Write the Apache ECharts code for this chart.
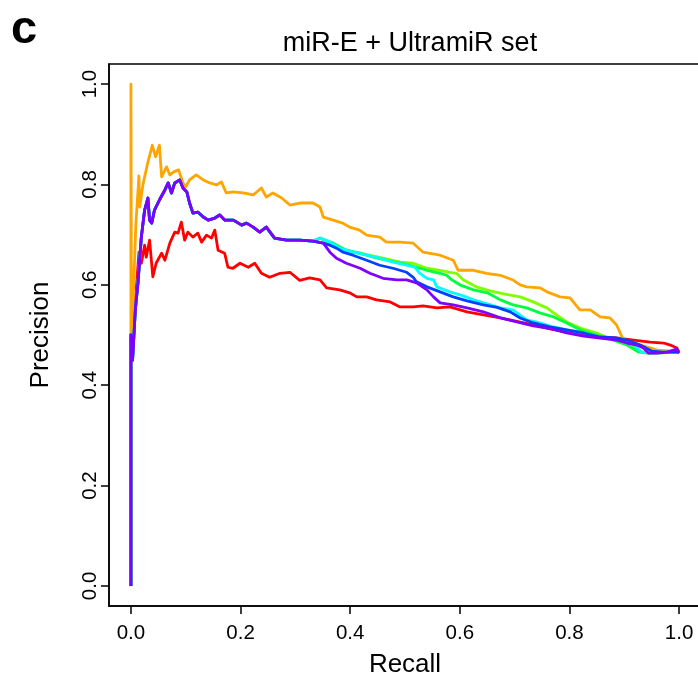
<!DOCTYPE html>
<html>
<head>
<meta charset="utf-8">
<script src="https://cdn.jsdelivr.net/npm/echarts@6/dist/echarts.min.js"></script>
<style>
html,body{margin:0;padding:0;background:#fff;}
#chart{width:698px;height:679px;}
</style>
</head>
<body>
<div id="chart"></div>
<script>
const panelLabel = 'c';
const titleText = 'miR-E + UltramiR set';
const xName = 'Recall';
const yName = 'Precision';
const tickValues = [0, 0.2, 0.4, 0.6, 0.8, 1.0];

const seriesNames = ['red', 'orange', 'chartreuse', 'green', 'cyan', 'blue', 'purple'];
const seriesColors = ['#FF0000', '#FFA500', '#80FF00', '#00FF40', '#00FFFF', '#0040FF', '#8000FF'];

const redCurve = [[0,0],[0,0.5],[0.004,0.48],[0.009,0.58],[0.0146,0.665],[0.019,0.643],[0.025,0.679],[0.028,0.655],[0.034,0.689],[0.04,0.616],[0.046,0.643],[0.056,0.663],[0.062,0.649],[0.071,0.683],[0.08,0.705],[0.086,0.703],[0.092,0.725],[0.098,0.689],[0.104,0.705],[0.113,0.695],[0.122,0.703],[0.129,0.685],[0.138,0.699],[0.147,0.693],[0.153,0.709],[0.159,0.669],[0.171,0.663],[0.177,0.635],[0.186,0.633],[0.199,0.643],[0.214,0.635],[0.226,0.643],[0.238,0.623],[0.253,0.615],[0.272,0.623],[0.29,0.625],[0.308,0.609],[0.326,0.614],[0.345,0.61],[0.357,0.594],[0.381,0.59],[0.399,0.584],[0.412,0.576],[0.43,0.576],[0.448,0.57],[0.473,0.566],[0.491,0.556],[0.515,0.556],[0.533,0.558],[0.558,0.554],[0.582,0.556],[0.613,0.546],[0.643,0.54],[0.674,0.534],[0.704,0.527],[0.734,0.52],[0.764,0.512],[0.795,0.506],[0.826,0.5],[0.856,0.496],[0.886,0.494],[0.917,0.49],[0.947,0.486],[0.972,0.484],[0.984,0.48],[0.996,0.474],[1.0,0.466]];

const orangeCurve = [[0,0],[0,1.0],[0.001,0.5],[0.005,0.6],[0.009,0.72],[0.0146,0.817],[0.016,0.755],[0.022,0.8],[0.03,0.84],[0.039,0.878],[0.045,0.855],[0.052,0.878],[0.056,0.815],[0.065,0.835],[0.071,0.819],[0.078,0.825],[0.087,0.829],[0.095,0.803],[0.1,0.795],[0.107,0.809],[0.119,0.819],[0.132,0.809],[0.144,0.803],[0.156,0.799],[0.165,0.805],[0.174,0.783],[0.186,0.785],[0.205,0.783],[0.223,0.779],[0.238,0.793],[0.247,0.775],[0.259,0.783],[0.275,0.773],[0.29,0.759],[0.308,0.763],[0.332,0.763],[0.345,0.755],[0.351,0.735],[0.369,0.729],[0.386,0.723],[0.399,0.715],[0.417,0.709],[0.43,0.699],[0.454,0.695],[0.466,0.685],[0.491,0.685],[0.515,0.683],[0.533,0.665],[0.564,0.659],[0.588,0.649],[0.597,0.629],[0.625,0.629],[0.649,0.623],[0.674,0.619],[0.698,0.609],[0.71,0.6],[0.722,0.596],[0.746,0.594],[0.759,0.586],[0.783,0.576],[0.801,0.574],[0.819,0.55],[0.838,0.55],[0.856,0.536],[0.874,0.534],[0.886,0.52],[0.896,0.496],[0.902,0.49],[0.93,0.48],[0.96,0.47],[1.0,0.467]];

const sharedStart = [[0,0],[0,0.5],[0.003,0.45],[0.008,0.55],[0.0128,0.603],[0.019,0.695],[0.025,0.749],[0.031,0.773],[0.034,0.729],[0.038,0.723],[0.043,0.749],[0.052,0.769],[0.062,0.789],[0.068,0.803],[0.074,0.783],[0.08,0.803],[0.089,0.809],[0.095,0.793],[0.102,0.785],[0.107,0.763],[0.113,0.743],[0.122,0.745],[0.132,0.735],[0.141,0.729],[0.153,0.733],[0.162,0.739],[0.171,0.729],[0.187,0.729],[0.202,0.719],[0.211,0.723],[0.223,0.715],[0.235,0.705],[0.247,0.715],[0.262,0.693],[0.284,0.689],[0.308,0.689],[0.332,0.687]];

const chartreuseTail = [[0.345,0.693],[0.375,0.675],[0.405,0.665],[0.43,0.66],[0.46,0.653],[0.491,0.645],[0.515,0.643],[0.54,0.633],[0.564,0.629],[0.582,0.625],[0.594,0.623],[0.606,0.61],[0.63,0.596],[0.655,0.588],[0.68,0.582],[0.71,0.576],[0.734,0.566],[0.746,0.56],[0.759,0.554],[0.771,0.544],[0.795,0.526],[0.82,0.514],[0.85,0.504],[0.88,0.49],[0.905,0.48],[0.923,0.47],[0.94,0.464],[0.96,0.464],[1.0,0.466]];

const greenTail = [[0.345,0.693],[0.369,0.683],[0.393,0.669],[0.418,0.663],[0.442,0.655],[0.466,0.649],[0.491,0.643],[0.515,0.637],[0.54,0.629],[0.564,0.623],[0.576,0.619],[0.585,0.61],[0.6,0.6],[0.625,0.59],[0.65,0.584],[0.674,0.57],[0.697,0.56],[0.722,0.554],[0.746,0.544],[0.771,0.536],[0.795,0.524],[0.82,0.51],[0.85,0.5],[0.88,0.49],[0.905,0.48],[0.926,0.466],[0.95,0.464],[1.0,0.466]];

const cyanTail = [[0.345,0.693],[0.363,0.685],[0.381,0.673],[0.405,0.665],[0.43,0.659],[0.454,0.653],[0.478,0.645],[0.503,0.639],[0.518,0.635],[0.527,0.623],[0.54,0.613],[0.552,0.61],[0.558,0.596],[0.582,0.586],[0.606,0.578],[0.625,0.57],[0.65,0.562],[0.674,0.554],[0.697,0.55],[0.722,0.53],[0.746,0.524],[0.771,0.516],[0.795,0.51],[0.826,0.504],[0.856,0.496],[0.892,0.49],[0.917,0.48],[0.932,0.466],[0.95,0.464],[0.97,0.466],[1.0,0.466]];

const blueTail = [[0.351,0.683],[0.363,0.679],[0.375,0.673],[0.387,0.665],[0.405,0.659],[0.43,0.649],[0.454,0.639],[0.478,0.633],[0.503,0.625],[0.515,0.615],[0.521,0.606],[0.54,0.596],[0.564,0.586],[0.588,0.576],[0.613,0.568],[0.643,0.56],[0.668,0.555],[0.692,0.546],[0.71,0.534],[0.734,0.524],[0.764,0.516],[0.795,0.51],[0.826,0.504],[0.856,0.496],[0.886,0.494],[0.905,0.49],[0.929,0.48],[0.95,0.468],[0.97,0.466],[1.0,0.466]];

const purpleTail = [[0.351,0.683],[0.363,0.665],[0.375,0.653],[0.393,0.643],[0.418,0.633],[0.436,0.623],[0.46,0.613],[0.485,0.61],[0.503,0.61],[0.521,0.604],[0.54,0.59],[0.552,0.576],[0.564,0.564],[0.588,0.56],[0.613,0.554],[0.643,0.546],[0.674,0.534],[0.704,0.526],[0.734,0.518],[0.764,0.513],[0.795,0.504],[0.826,0.498],[0.856,0.494],[0.886,0.49],[0.905,0.484],[0.923,0.48],[0.935,0.474],[0.944,0.464],[0.96,0.464],[0.978,0.466],[0.99,0.47],[0.996,0.472],[1.0,0.464]];

const curves = [
  redCurve,
  orangeCurve,
  sharedStart.concat(chartreuseTail),
  sharedStart.concat(greenTail),
  sharedStart.concat(cyanTail),
  sharedStart.concat(blueTail),
  sharedStart.concat(purpleTail)
];

const FONT = 'Liberation Sans, Arial, Helvetica, sans-serif';
const chart = echarts.init(document.getElementById('chart'), null, {renderer: 'canvas'});

const axisCommon = {
  type: 'value',
  min: -0.04,
  max: 1.04,
  splitLine: {show: false},
  axisLine: {show: true, onZero: false, lineStyle: {color: '#000', width: 1.5}},
  axisTick: {show: true, inside: false, length: 8, lineStyle: {color: '#000', width: 1.5}, customValues: tickValues},
  nameLocation: 'middle',
  nameTextStyle: {fontFamily: FONT, fontSize: 26, color: '#000'}
};

chart.setOption({
  animation: false,
  backgroundColor: '#fff',
  title: {
    text: titleText,
    left: 405,
    top: 25,
    textAlign: 'center',
    textStyle: {fontFamily: FONT, fontSize: 27, fontWeight: 'normal', color: '#000'}
  },
  graphic: [{
    type: 'text',
    left: 11,
    top: 7,
    style: {text: panelLabel, font: 'bold 47px ' + FONT, fill: '#000'}
  }],
  grid: {
    left: 109,
    top: 64,
    width: 592,
    height: 542,
    show: true,
    borderColor: '#000',
    borderWidth: 1.5,
    containLabel: false,
    outerBoundsMode: 'none'
  },
  xAxis: Object.assign({}, axisCommon, {
    name: xName,
    nameGap: 46,
    axisLabel: {
      customValues: tickValues,
      margin: 17,
      fontFamily: FONT, fontSize: 20.5, color: '#000',
      formatter: v => v.toFixed(1)
    }
  }),
  yAxis: Object.assign({}, axisCommon, {
    name: yName,
    nameGap: 55,
    axisLabel: {
      customValues: tickValues,
      rotate: 90,
      margin: 8,
      fontFamily: FONT, fontSize: 20.5, color: '#000',
      formatter: v => v.toFixed(1)
    }
  }),
  series: curves.map((d, i) => ({
    name: seriesNames[i],
    type: 'line',
    data: d,
    showSymbol: false,
    symbol: 'none',
    silent: true,
    clip: true,
    lineStyle: {color: seriesColors[i], width: 2.8, join: 'round'},
    z: 2 + i
  }))
});
</script>
</body>
</html>
